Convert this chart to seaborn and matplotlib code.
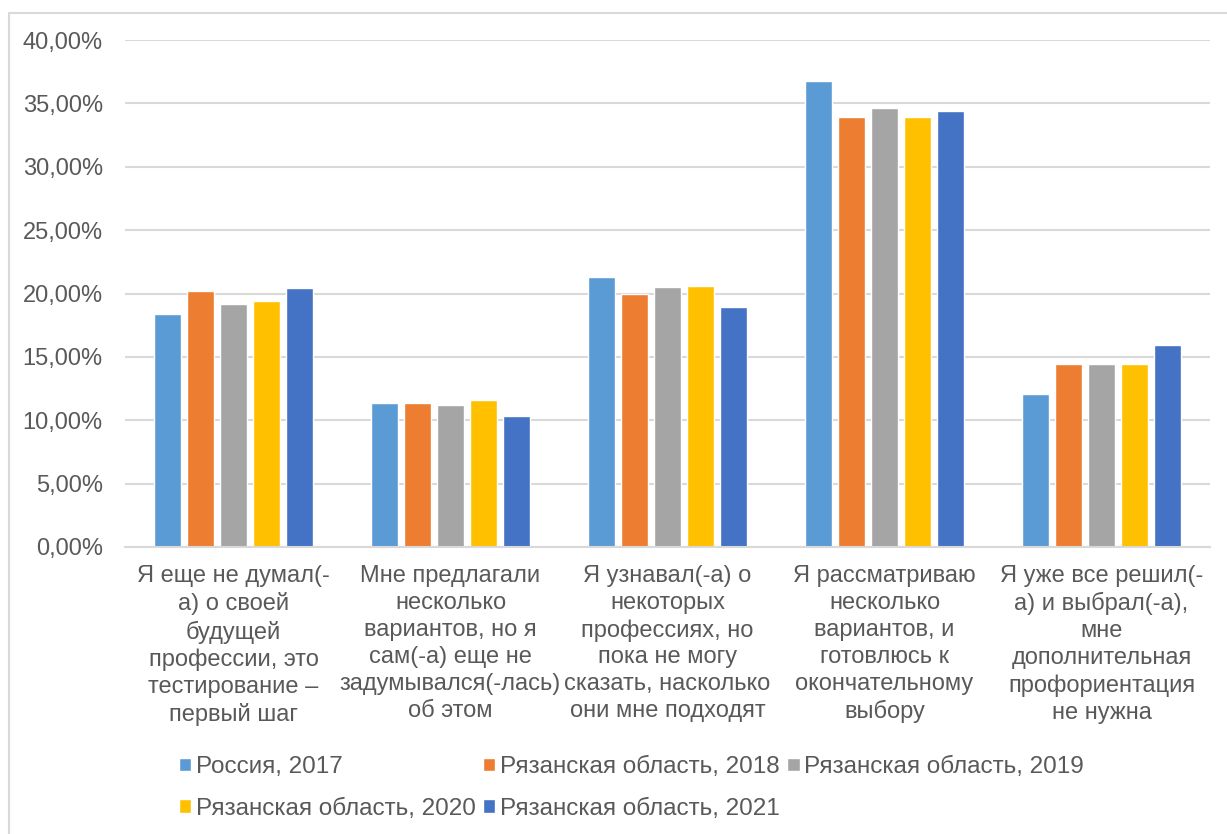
import numpy as np
import matplotlib.pyplot as plt
import matplotlib.lines as mlines
import seaborn as sns
import pandas as pd

# categories (answers) and series
categories = ['Я еще не думал(-\nа) о своей\nбудущей\nпрофессии, это\nтестирование –\nпервый шаг',
              'Мне предлагали\nнесколько\nвариантов, но я\nсам(-а) еще не\nзадумывался(-лась)\nоб этом',
              'Я узнавал(-а) о\nнекоторых\nпрофессиях, но\nпока не могу\nсказать, насколько\nони мне подходят',
              'Я рассматриваю\nнесколько\nвариантов, и\nготовлюсь к\nокончательному\nвыбору',
              'Я уже все решил(-\nа) и выбрал(-а),\nмне\nдополнительная\nпрофориентация\nне нужна']

series = ['Россия, 2017', 'Рязанская область, 2018', 'Рязанская область, 2019',
          'Рязанская область, 2020', 'Рязанская область, 2021']

# values in percent
russia_2017 = [18.4, 11.4, 21.3, 36.8, 12.1]
ryazan_2018 = [20.2, 11.4, 20.0, 33.9, 14.4]
ryazan_2019 = [19.2, 11.2, 20.5, 34.6, 14.4]
ryazan_2020 = [19.4, 11.6, 20.6, 33.9, 14.4]
ryazan_2021 = [20.4, 10.3, 18.9, 34.4, 15.9]

y_ticks = [0, 5, 10, 15, 20, 25, 30, 35, 40]

colors = ['#5B9BD5', '#ED7D31', '#A5A5A5', '#FFC000', '#4472C4']
text_color = '#595959'
grid_color = '#D9D9D9'

# long form table for seaborn
values = [russia_2017, ryazan_2018, ryazan_2019, ryazan_2020, ryazan_2021]
rows = []
for s, vals in zip(series, values):
    for c, v in zip(categories, vals):
        rows.append({'category': c, 'series': s, 'value': v})
data = pd.DataFrame(rows)

sns.set_style('white')
plt.rcParams['font.family'] = ['Liberation Sans', 'DejaVu Sans']

fig = plt.figure(figsize=(12.27, 8.34), dpi=100)
ax = fig.add_axes([125 / 1227, 1 - 547 / 834, (1210 - 125) / 1227, (547 - 40) / 834])

sns.barplot(data=data, x='category', y='value', hue='series', palette=colors,
            width=0.76, gap=0.18, errorbar=None, saturation=1, ax=ax, zorder=2)

ax.set_ylim(0, 40)
ax.set_yticks(y_ticks)
ax.set_yticklabels([f'{t:.2f}%'.replace('.', ',') for t in y_ticks])
ax.yaxis.grid(True, color=grid_color, linewidth=1.5, zorder=0)
ax.set_axisbelow(True)
ax.set_xlabel('')
ax.set_ylabel('')
for side in ['top', 'right', 'left']:
    ax.spines[side].set_visible(False)
ax.spines['bottom'].set_color(grid_color)
ax.spines['bottom'].set_linewidth(1.5)
ax.tick_params(axis='y', length=0, pad=16, labelsize=17, labelcolor=text_color)
ax.tick_params(axis='x', length=0, pad=13, labelsize=17, labelcolor=text_color)
for lbl in ax.get_xticklabels():
    lbl.set_linespacing(1.29)
    lbl.set_verticalalignment('top')

# legend: fill row-wise with 3 columns
handles, labels = ax.get_legend_handles_labels()
ax.get_legend().remove()
order = [0, 3, 1, 4, 2]
fig.legend([handles[i] for i in order], [labels[i] for i in order],
           loc='upper left', bbox_to_anchor=(167 / 1227, 1 - 744 / 834), ncol=3,
           frameon=False, fontsize=17.5, labelcolor=text_color, borderpad=0,
           handlelength=0.5, handleheight=0.5, handletextpad=0.2,
           columnspacing=0.3, labelspacing=0.8)

# outer frame of the chart
fig.add_artist(mlines.Line2D([9 / 1227, 9 / 1227], [0, 1 - 13 / 834], color=grid_color, lw=1.5))
fig.add_artist(mlines.Line2D([9 / 1227, 1], [1 - 13 / 834, 1 - 13 / 834], color=grid_color, lw=1.5))

fig.savefig('out.png', dpi=100)
